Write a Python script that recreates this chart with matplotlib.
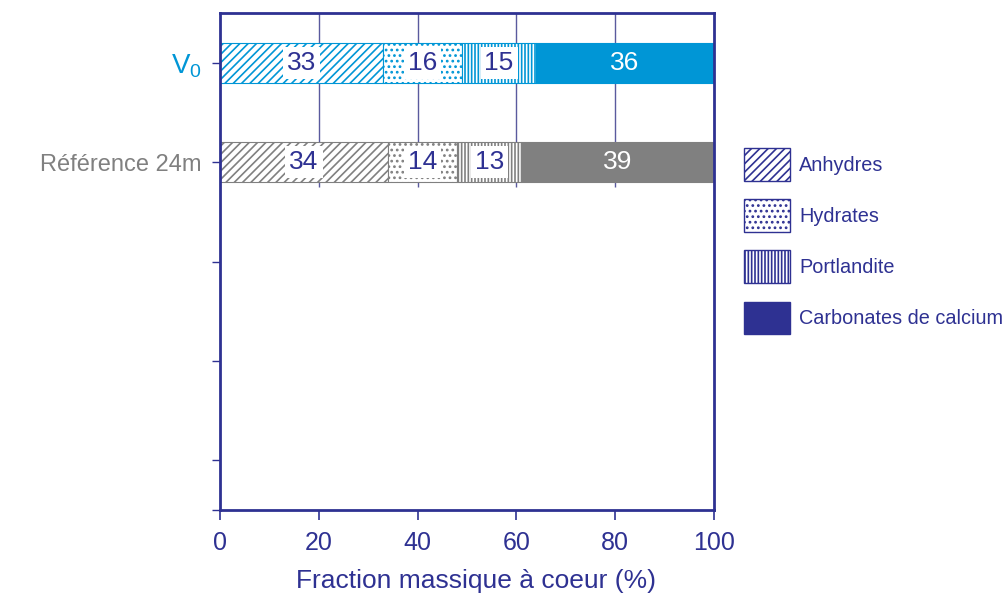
import matplotlib
matplotlib.use("Agg")
import matplotlib.pyplot as plt
from matplotlib.patches import Patch

plt.rcParams["font.family"] = ["Liberation Sans", "DejaVu Sans"]
plt.rcParams["mathtext.fontset"] = "custom"
plt.rcParams["mathtext.rm"] = "Liberation Sans"
plt.rcParams["hatch.linewidth"] = 1.2

# data
rows = [r"V$_0$", "Référence 24m"]
row_colors = ["#0096D6", "#808080"]
row_fontsizes = [20, 17]
components = ["Anhydres", "Hydrates", "Portlandite", "Carbonates de calcium"]
values = {
    "Anhydres":              [33, 34],
    "Hydrates":              [16, 14],
    "Portlandite":           [15, 13],
    "Carbonates de calcium": [36, 39],
}
hatches = ["////", "...", "|||||", None]
n_slots = 5
xticks = [0, 20, 40, 60, 80, 100]

NAVY = "#2E3192"

fig = plt.figure(figsize=(10.08, 6.02), dpi=100)
ax = fig.add_axes([0.2183, 0.1528, 0.49, 0.8256])

bar_h = 0.4
# grid lines only in the bar region
ax.vlines([20, 40, 60, 80], -0.5, 1.25, color="#5A5A9E", lw=1, zorder=0)

for r, (row, col) in enumerate(zip(rows, row_colors)):
    left = 0
    for comp, h in zip(components, hatches):
        v = values[comp][r]
        if h is None:
            ax.barh(r, v, left=left, height=bar_h, color=col, edgecolor=col,
                    lw=0.8, zorder=2)
            ax.text(left + v / 2, r, str(v), ha="center", va="center",
                    color="white", fontsize=19, zorder=4)
        else:
            ax.barh(r, v, left=left, height=bar_h, color="white", edgecolor=col,
                    hatch=h, lw=0.8, zorder=2)
            ax.text(left + v / 2, r, str(v), ha="center", va="center",
                    color=NAVY, fontsize=19, zorder=4,
                    bbox=dict(boxstyle="square,pad=0.15", fc="white", ec="none"))
        left += v

ax.set_xlim(0, 100)
ax.set_ylim(n_slots - 0.5, -0.5)
ax.set_xticks(xticks)
ax.set_xticklabels([str(x) for x in xticks], fontsize=18, color=NAVY)
ax.set_yticks(list(range(n_slots)) + [n_slots - 0.5])
ax.set_yticklabels(rows + [""] * (n_slots - len(rows) + 1))
ax.tick_params(axis="x", colors=NAVY, length=7, width=1.2, pad=8, labelcolor=NAVY)
ax.tick_params(axis="y", colors=NAVY, length=6, width=1, pad=7)
for lab, col, fs in zip(ax.get_yticklabels(), row_colors, row_fontsizes):
    lab.set_color(col)
    lab.set_fontsize(fs)
ax.set_xlabel("Fraction massique à coeur (%)", fontsize=19, color=NAVY, labelpad=10)
ax.xaxis.label.set_x(0.518)

for s in ax.spines.values():
    s.set_color(NAVY)
    s.set_linewidth(2)

handles = [Patch(facecolor="white", edgecolor=NAVY, hatch=h) if h else
           Patch(facecolor=NAVY, edgecolor=NAVY) for h in hatches]
fig.legend(handles, components, loc="upper left", bbox_to_anchor=(0.738, 0.754),
           frameon=False, fontsize=14.3, handlelength=2.33, handleheight=2.17,
           handletextpad=0.45, labelspacing=0.92, borderpad=0, borderaxespad=0,
           labelcolor=NAVY)

fig.savefig("out.png", dpi=100)
